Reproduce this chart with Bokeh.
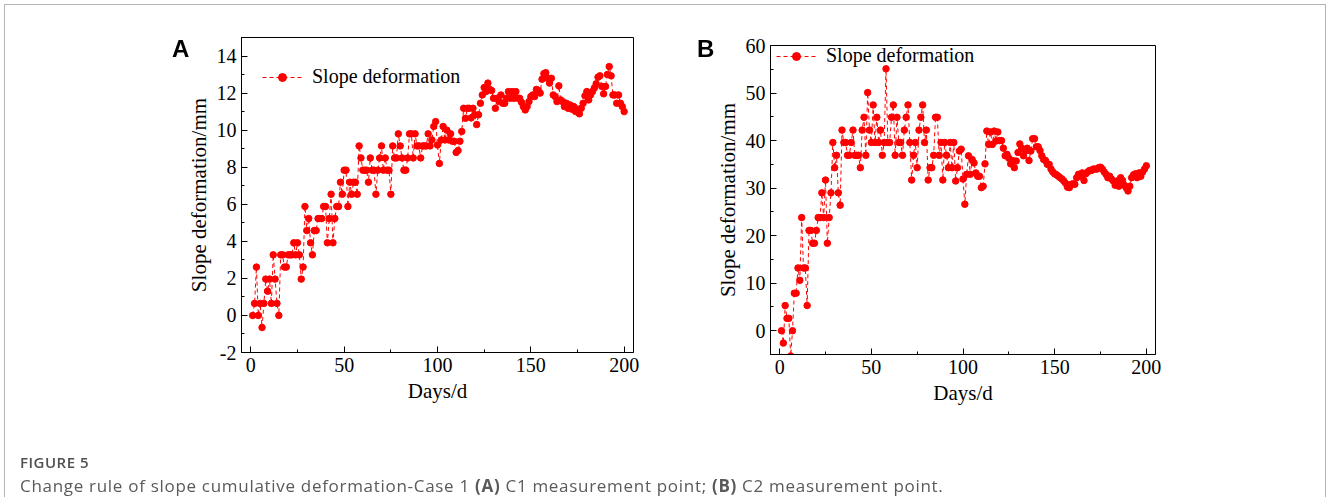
from bokeh.plotting import figure
from bokeh.layouts import column, row
from bokeh.models import Legend, LegendItem, Div, Range1d, FixedTicker, Spacer
from bokeh.embed import file_html
from bokeh.resources import INLINE

# ---------------- data ----------------
days = list(range(1, 201))

deform_c1 = [
    0, 0.65, 2.61, 0, 0.65, -0.65, 0.65, 1.96, 1.31, 1.96,
    0.65, 3.27, 1.96, 0.65, 0, 3.27, 3.27, 2.61, 2.61, 3.27,
    3.27, 3.27, 3.92, 3.27, 3.92, 3.27, 1.96, 2.61, 5.88, 4.58,
    5.23, 3.92, 3.27, 4.58, 4.58, 5.23, 5.23, 5.23, 5.88, 5.88,
    3.92, 5.23, 6.54, 3.92, 5.23, 5.88, 5.88, 7.19, 6.54, 7.84,
    7.84, 5.88, 7.19, 6.54, 7.19, 7.19, 6.54, 9.15, 8.5, 7.84,
    7.84, 7.84, 7.19, 8.5, 7.84, 7.84, 6.54, 7.84, 8.5, 9.15,
    7.84, 8.5, 7.84, 7.84, 6.54, 9.15, 8.5, 8.5, 9.8, 9.15,
    8.5, 7.84, 7.84, 8.5, 9.8, 9.8, 8.5, 9.8, 9.15, 9.15,
    8.5, 9.15, 9.15, 9.15, 9.8, 9.15, 9.47, 10.2, 10.46, 9.2,
    8.2, 9.47, 10.2, 9.47, 10.0, 9.47, 9.8, 9.4, 9.4, 8.8,
    8.9, 9.4, 9.93, 11.18, 10.64, 11.18, 11.18, 10.66, 11.18, 10.83,
    10.3, 10.83, 11.45, 11.9, 12.3, 12.08, 12.54, 12.2, 12.14, 11.72,
    11.18, 11.72, 11.54, 11.9, 11.45, 11.45, 11.72, 12.08, 11.72, 12.08,
    11.72, 12.08, 11.72, 11.72, 11.5, 11.27, 11.09, 11.27, 11.54, 11.81,
    11.9, 11.81, 12.2, 12.14, 12.0, 12.75, 13.05, 13.1, 12.8, 12.54,
    12.8, 11.9, 11.81, 11.54, 12.39, 11.63, 11.54, 11.27, 11.45, 11.18,
    11.36, 11.13, 11.27, 11.0, 11.13, 10.88, 11.18, 11.45, 11.85, 12.08,
    11.63, 11.9, 12.08, 12.27, 12.5, 12.86, 12.93, 12.36, 11.96, 12.36,
    13.0, 13.43, 12.93, 11.9, 11.9, 11.45, 11.9, 11.45, 11.27, 11.0,
]

deform_c2 = [
    0, -2.6, 5.3, 2.6, 2.6, -5.3, 0, 7.9, 7.9, 13.2,
    10.6, 23.8, 13.2, 13.2, 5.3, 21.1, 21.1, 18.4, 18.4, 21.1,
    23.8, 23.8, 29.0, 23.8, 31.7, 18.4, 23.8, 29.0, 39.6, 34.3,
    36.9, 29.0, 26.4, 42.2, 39.6, 39.6, 36.9, 36.9, 39.6, 42.2,
    36.9, 36.9, 36.9, 34.3, 42.2, 44.9, 36.9, 50.1, 42.2, 39.6,
    47.5, 39.6, 44.9, 39.6, 42.2, 36.9, 39.6, 55.1, 39.6, 39.6,
    44.9, 47.5, 36.9, 44.9, 39.6, 39.6, 36.9, 42.2, 44.9, 47.5,
    39.6, 31.7, 36.9, 39.6, 34.3, 42.2, 44.9, 47.5, 39.6, 42.2,
    31.7, 34.3, 34.3, 36.9, 44.9, 44.9, 36.9, 39.6, 31.7, 39.6,
    36.9, 34.3, 39.6, 34.3, 39.6, 31.5, 34.3, 37.8, 38.2, 31.9,
    26.6, 32.9, 36.8, 32.9, 36.0, 35.3, 33.2, 32.5, 32.5, 30.1,
    30.4, 35.1, 42.0, 39.2, 41.8, 39.2, 42.0, 39.9, 41.8, 40.0,
    40.0, 38.4, 36.8, 37.1, 36.3, 35.1, 35.8, 34.3, 35.7, 37.5,
    39.3, 38.4, 36.8, 37.8, 38.4, 35.8, 37.8, 40.4, 40.4, 38.7,
    38.7, 37.9, 36.8, 36.0, 35.8, 35.0, 35.0, 34.0, 33.4, 33.0,
    32.8, 32.5, 32.2, 31.9, 31.5, 31.0, 30.2, 30.1, 30.8, 30.9,
    30.8, 32.2, 32.9, 32.5, 33.2, 31.6, 33.0, 33.4, 33.7, 33.7,
    34.0, 34.0, 34.0, 34.3, 34.4, 34.0, 33.4, 32.9, 32.2, 32.5,
    31.9, 31.5, 30.6, 31.5, 30.4, 32.2, 31.6, 30.6, 30.1, 29.4,
    30.4, 32.2, 32.8, 33.0, 32.2, 33.2, 32.5, 33.4, 34.0, 34.7,
]

x_ticks = [0, 50, 100, 150, 200]
x_minor = [25, 75, 125, 175]
yA_ticks = [-2, 0, 2, 4, 6, 8, 10, 12, 14]
yA_minor = [-1, 1, 3, 5, 7, 9, 11, 13, 15]
yB_ticks = [0, 10, 20, 30, 40, 50, 60]
yB_minor = [-5, 5, 15, 25, 35, 45, 55]

SERIF = "Liberation Serif"
RED = "#ff0000"


def make_panel(vals, yrange, yticks, yminor, fw, fh, bl, br, bt, bb, leg_loc):
    p = figure(frame_width=fw, frame_height=fh,
               min_border_left=bl, min_border_right=br,
               min_border_top=bt, min_border_bottom=bb,
               x_range=Range1d(-5, 205), y_range=Range1d(*yrange),
               output_backend="svg", toolbar_location=None)
    p.xgrid.visible = False
    p.ygrid.visible = False
    p.outline_line_color = "black"
    p.outline_line_alpha = 1
    p.outline_line_width = 1
    p.background_fill_color = "white"
    p.border_fill_color = "white"

    p.xaxis.ticker = FixedTicker(ticks=x_ticks, minor_ticks=x_minor)
    p.yaxis.ticker = FixedTicker(ticks=yticks, minor_ticks=yminor)
    p.yaxis.major_label_overrides = {t: str(t) for t in yticks}
    p.xaxis.axis_label = "Days/d"
    p.yaxis.axis_label = "Slope deformation/mm"
    for ax in (p.xaxis[0], p.yaxis[0]):
        ax.axis_line_color = "black"
        ax.axis_line_width = 1
        ax.major_tick_line_color = "black"
        ax.minor_tick_line_color = "black"
        ax.major_tick_in = 6
        ax.major_tick_out = 0
        ax.minor_tick_in = 3
        ax.minor_tick_out = 0
        ax.major_label_text_font = SERIF
        ax.major_label_text_font_size = "20px"
        ax.major_label_text_color = "black"
        ax.axis_label_text_font = SERIF
        ax.axis_label_text_font_size = "21px"
        ax.axis_label_text_font_style = "normal"
        ax.axis_label_text_color = "black"
    p.xaxis.major_label_standoff = 5
    p.xaxis.axis_label_standoff = 4
    p.yaxis.major_label_standoff = 5
    p.yaxis.axis_label_standoff = 3

    ln = p.line(days, vals, line_color=RED, line_width=1, line_dash="4 3")
    sc = p.scatter(days, vals, size=6.5, fill_color=RED, line_color=RED)

    leg = Legend(items=[LegendItem(label="Slope deformation", renderers=[ln, sc])],
                 location=leg_loc, border_line_color=None,
                 background_fill_alpha=0, padding=0, margin=0,
                 glyph_width=40, glyph_height=20, label_standoff=10,
                 label_text_font=SERIF, label_text_font_size="20px",
                 label_text_color="black")
    p.add_layout(leg)
    return p


pA = make_panel(deform_c1, (-2, 15), yA_ticks, yA_minor,
                392, 315, 241, 67, 37, 68, (21, 264))
pB = make_panel(deform_c2, (-5, 60), yB_ticks, yB_minor,
                385, 309, 70, 173, 37, 66, (6, 287))

caption_html = (
    '<div style="position:fixed;left:4px;top:4px;width:1322px;height:700px;'
    'border:1px solid #b4b4b4;border-bottom:none;box-sizing:border-box;pointer-events:none;"></div>'
    '<div style="position:fixed;left:172px;top:37px;font-family:\'Liberation Sans\';font-weight:bold;'
    'font-size:24px;line-height:24px;color:#000;">A</div>'
    '<div style="position:fixed;left:697px;top:37px;font-family:\'Liberation Sans\';font-weight:bold;'
    'font-size:24px;line-height:24px;color:#000;">B</div>'
    '<div style="position:fixed;left:20px;top:452px;font-family:\'Open Sans\';font-weight:600;'
    'font-size:15px;letter-spacing:0.5px;color:#505050;white-space:nowrap;">FIGURE 5</div>'
    '<div style="position:fixed;left:20px;top:474px;font-family:\'Open Sans\';'
    'font-size:17px;letter-spacing:0.7px;color:#5a5a5a;white-space:nowrap;">'
    'Change rule of slope cumulative deformation-Case 1 <b>(A)</b> C1 measurement point; '
    '<b>(B)</b> C2 measurement point.</div>'
)
cap = Div(text=caption_html, width=1328, height=77)

layout = column(row(pA, column(Spacer(height=8, width=628), pB)), cap)
with open("out.html", "w") as f:
    f.write(file_html(layout, INLINE))
